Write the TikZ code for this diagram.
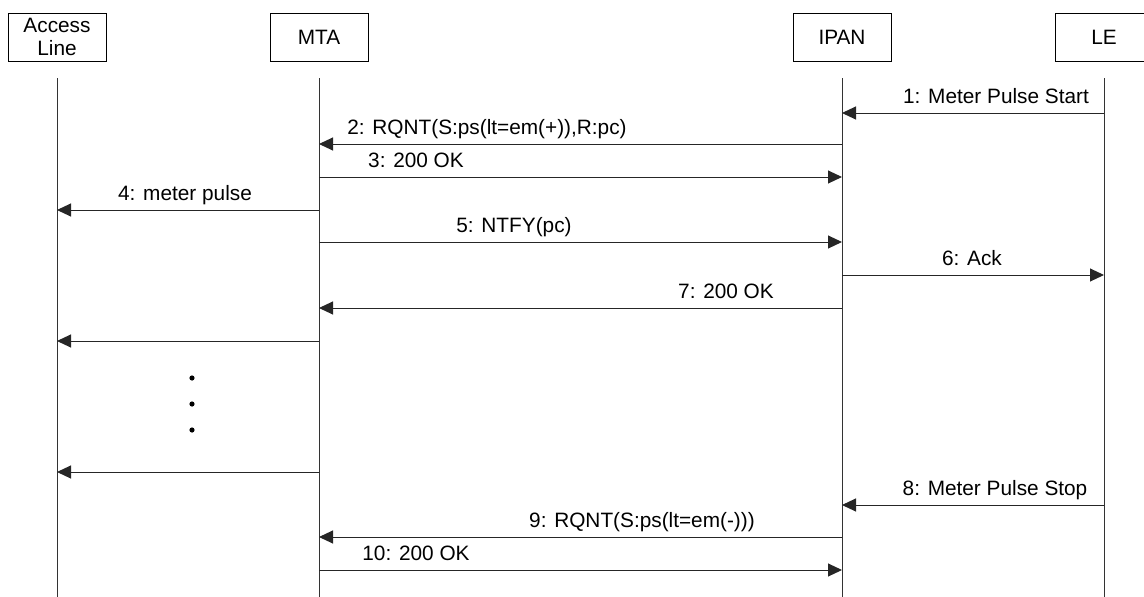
\documentclass[tikz,border=0pt]{standalone}
\usepackage{fontspec}
\setmainfont{Liberation Sans}
\usetikzlibrary{arrows.meta}

\begin{document}
\begin{tikzpicture}[x=1pt, y=-1pt,
	actor/.style={draw, line width=0.9pt, minimum width=98pt, minimum height=48pt, inner sep=0pt, align=center, font=\fontsize{20.8}{23}\selectfont},
	life/.style={line width=1pt, black!80},
	msg/.style={line width=1pt, black!85, -{Triangle[length=14pt, width=13pt]}},
	lbl/.style={anchor=base, inner sep=0pt, font=\fontsize{20.8}{25}\selectfont}]
	\clip (0,0) rectangle (1144,597);
	% actors
	\node[actor] (al) at (57,37) {Access\\Line};
	\node[actor] (mta) at (319,37) {MTA};
	\node[actor] (ipan) at (842,37) {IPAN};
	\node[actor] (le) at (1104,37) {LE};
	% lifelines
	\foreach \n in {al,mta,ipan,le}{
	  \coordinate (\n-top) at (\n |- 0,78);
	  \coordinate (\n-bot) at (\n |- 0,597);
	  \draw[life] (\n-top) -- (\n-bot);
	}
	% labelled messages
	\foreach \y/\from/\to/\lx/\txt [count=\i] in {
	    113/le/ipan/996/{1: Meter Pulse Start},
	    144/ipan/mta/487/{2: RQNT(S:ps(lt=em(+)),R:pc)},
	    177/mta/ipan/416/{3: 200 OK},
	    210/mta/al/185/{4: meter pulse},
	    242/mta/ipan/514/{5: NTFY(pc)},
	    275/ipan/le/972/{6: Ack},
	    308/ipan/mta/726/{7: 200 OK},
	    505/le/ipan/995/{8: Meter Pulse Stop},
	    537/ipan/mta/642/{9: RQNT(S:ps(lt=em(-)))},
	    570/mta/ipan/416/{10: 200 OK}}{
	  \coordinate (m\i-s) at (\from |- 0,\y);
	  \coordinate (m\i-e) at (\to |- 0,\y);
	  \draw[msg] (m\i-s) -- (m\i-e);
	  \node[lbl] (t\i) at (\lx,\y-10) {\txt};
	}
	% repeated meter pulses
	\foreach \y [count=\i] in {341,472}{
	  \coordinate (p\i-s) at (mta |- 0,\y);
	  \coordinate (p\i-e) at (al |- 0,\y);
	  \draw[msg] (p\i-s) -- (p\i-e);
	}
	\foreach \y in {378,404,430}{
	  \fill (192,\y) circle (2.6pt);
	}
\end{tikzpicture}
\end{document}
